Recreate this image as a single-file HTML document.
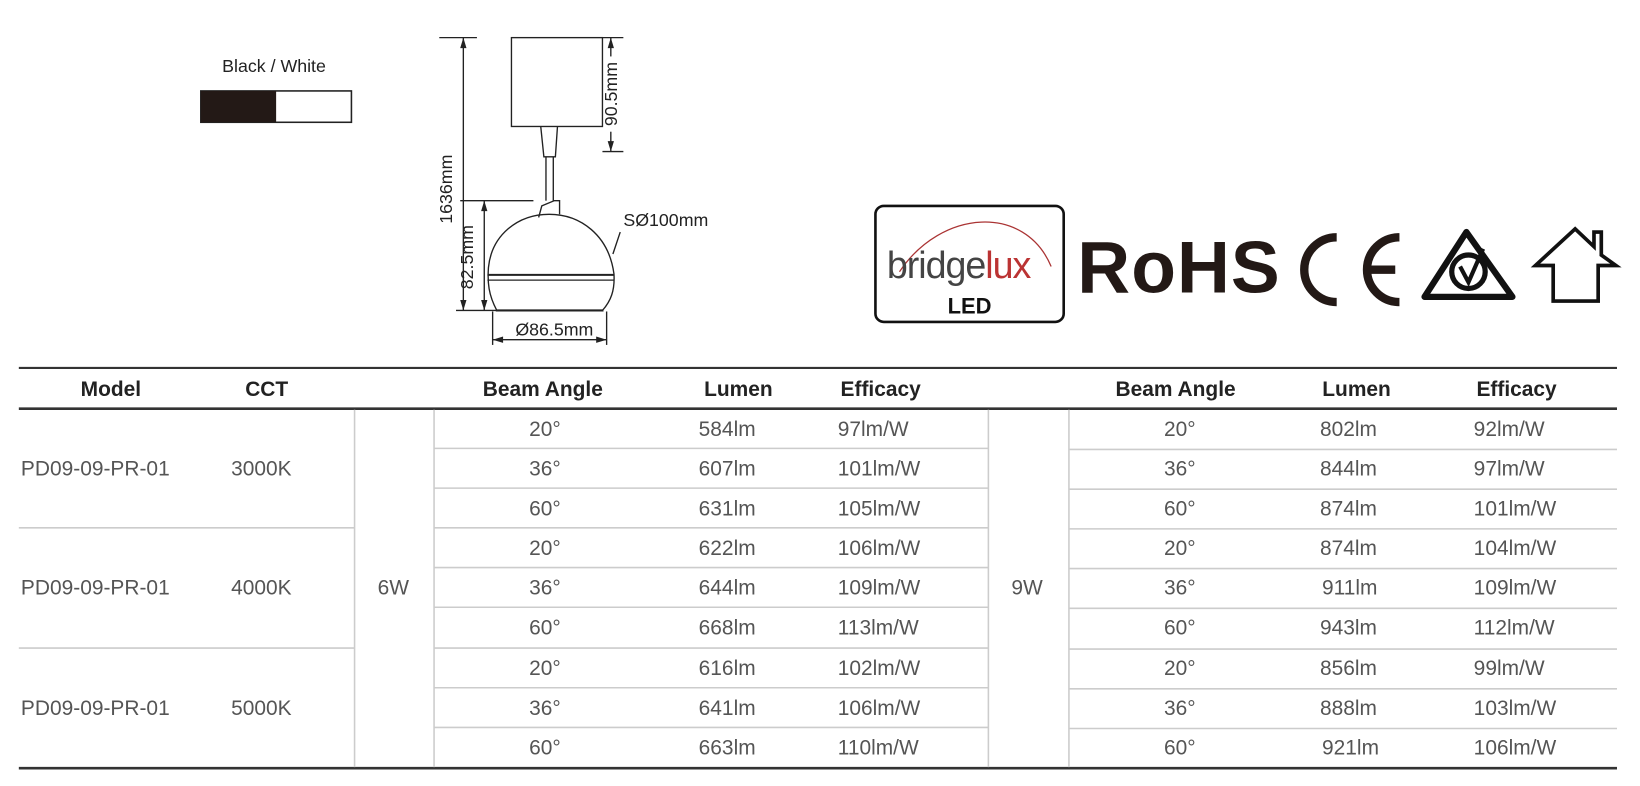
<!DOCTYPE html>
<html><head><meta charset="utf-8"><style>
html,body{margin:0;padding:0;background:#fff;}
svg{display:block;}
text{font-family:"Liberation Sans",sans-serif;}
</style></head><body>
<svg width="1640" height="786" viewBox="0 0 1568 752" preserveAspectRatio="none" xmlns="http://www.w3.org/2000/svg">
<!-- swatch -->
<text x="262" y="69" font-size="17" text-anchor="middle" fill="#222">Black / White</text>
<rect x="192" y="87" width="144" height="30" fill="#fff" stroke="#222" stroke-width="1.5"/>
<rect x="192" y="87" width="72" height="30" fill="#231916"/>
<!-- drawing -->
<g stroke="#222" fill="none" stroke-width="1.3">
<rect x="489" y="36" width="87" height="85"/>
<line x1="420" y1="36" x2="456" y2="36"/>
<line x1="443" y1="36" x2="443" y2="297"/>
<line x1="576" y1="36" x2="596" y2="36"/>
<line x1="576" y1="145" x2="596" y2="145"/>
<line x1="584" y1="36" x2="584" y2="54"/>
<line x1="584" y1="126" x2="584" y2="145"/>
<line x1="440" y1="192" x2="510" y2="192"/>
<line x1="463" y1="192" x2="463" y2="297"/>
<line x1="436" y1="297" x2="475" y2="297"/>
<path d="M517 121 L520 150 L531 150 L533 121"/>
<line x1="522" y1="150" x2="522" y2="192"/>
<line x1="529" y1="150" x2="529" y2="192"/>
<path d="M515 208 L518 197 L530 192 L535 192 L535 205"/>
<path d="M475 297 C467 282 466 270 467 256 C470 225 495 205 525 205 C555 205 582 225 587 262 C588 278 584 288 576 297 Z"/>
<line x1="466" y1="263" x2="587" y2="263" stroke-width="2"/>
<line x1="466" y1="268" x2="587" y2="268"/>
<line x1="474" y1="297" x2="577" y2="297" stroke-width="2"/>
<line x1="471" y1="298" x2="471" y2="330"/>
<line x1="580" y1="298" x2="580" y2="330"/>
<line x1="471" y1="325" x2="580" y2="325"/>
<path d="M593 222 L586 243"/>
</g>
<g fill="#222">
<path d="M443 36 l-3 10 h6z M443 297 l-3 -10 h6z M584 36 l-3 10 h6z M584 145 l-3 -10 h6z M463 192 l-3 10 h6z M463 297 l-3 -10 h6z M471 325 l10 -3 v6z M580 325 l-10 -3 v6z"/>
</g>
<text transform="translate(432 181) rotate(-90)" font-size="17" text-anchor="middle" fill="#222">1636mm</text>
<text transform="translate(590 90) rotate(-90)" font-size="17" text-anchor="middle" fill="#222">90.5mm</text>
<text transform="translate(452 246) rotate(-90)" font-size="17" text-anchor="middle" fill="#222">82.5mm</text>
<text x="530" y="321" font-size="17" text-anchor="middle" fill="#222">Ø86.5mm</text>
<text x="596" y="216" font-size="17" fill="#222">SØ100mm</text>
<!-- logos -->
<rect x="837" y="197" width="180" height="111" rx="8" fill="#fff" stroke="#111" stroke-width="2.5"/>
<path d="M860 260 C900 200 980 195 1005 255" fill="none" stroke="#a33" stroke-width="1.2"/>
<text x="848" y="266" font-size="36" fill="#444" letter-spacing="-1">bridge<tspan fill="#b33">lux</tspan></text>
<text x="927" y="300" font-size="21" font-weight="bold" text-anchor="middle" fill="#111">LED</text>
<text x="1030" y="280" font-size="70" font-weight="bold" fill="#231916" letter-spacing="1">RoHS</text>
<path d="M1278 227 A31 31 0 0 0 1278 289" fill="none" stroke="#231916" stroke-width="8"/>
<path d="M1338 227 A31 31 0 0 0 1338 289 M1310 258 H1334" fill="none" stroke="#231916" stroke-width="8"/>
<path d="M1402 222 L1446 284 L1362 284 Z" fill="none" stroke="#111" stroke-width="6" stroke-linejoin="round"/>
<circle cx="1404" cy="260" r="16" fill="none" stroke="#111" stroke-width="5"/>
<path d="M1396 255 L1404 270 L1418 238" fill="none" stroke="#111" stroke-width="4"/>
<path d="M1485 288 V254 H1468 L1506 219 L1524 236 V222 H1531 V244 L1545 254 H1528 V288 Z" fill="none" stroke="#111" stroke-width="3.5" stroke-linejoin="miter"/>
<!-- table lines -->
<g stroke="#333">
<line x1="18" y1="352" x2="1546" y2="352" stroke-width="2"/>
<line x1="18" y1="391" x2="1546" y2="391" stroke-width="2.5"/>
<line x1="18" y1="735" x2="1546" y2="735" stroke-width="2.5"/>
</g>
<g stroke="#ccc" stroke-width="1.5">
<line x1="339" y1="392" x2="339" y2="734"/>
<line x1="415" y1="392" x2="415" y2="734"/>
<line x1="945" y1="392" x2="945" y2="734"/>
<line x1="1022" y1="392" x2="1022" y2="734"/>
<line x1="18" y1="505" x2="339" y2="505"/>
<line x1="18" y1="620" x2="339" y2="620"/>
<path d="M415 429H945M415 467H945M415 505H945M415 543H945M415 581H945M415 620H945M415 658H945M415 696H945"/>
<path d="M1022 430H1546M1022 468H1546M1022 506H1546M1022 544H1546M1022 582H1546M1022 621H1546M1022 659H1546M1022 697H1546"/>
</g>
<g font-size="20" font-weight="bold" fill="#222">
<text x="106" y="379" text-anchor="middle">Model</text>
<text x="255" y="379" text-anchor="middle">CCT</text>
<text x="519" y="379" text-anchor="middle">Beam Angle</text>
<text x="706" y="379" text-anchor="middle">Lumen</text>
<text x="842" y="379" text-anchor="middle">Efficacy</text>
<text x="1124" y="379" text-anchor="middle">Beam Angle</text>
<text x="1297" y="379" text-anchor="middle">Lumen</text>
<text x="1450" y="379" text-anchor="middle">Efficacy</text>
</g>
<g font-size="20" fill="#555">
<text x="20" y="455">PD09-09-PR-01</text><text x="221" y="455">3000K</text>
<text x="20" y="569">PD09-09-PR-01</text><text x="221" y="569">4000K</text>
<text x="20" y="684">PD09-09-PR-01</text><text x="221" y="684">5000K</text>
<text x="376" y="569" text-anchor="middle">6W</text>
<text x="982" y="569" text-anchor="middle">9W</text>
<g text-anchor="middle">
<text x="521" y="417">20°</text><text x="521" y="455">36°</text><text x="521" y="493">60°</text>
<text x="521" y="531">20°</text><text x="521" y="569">36°</text><text x="521" y="607">60°</text>
<text x="521" y="646">20°</text><text x="521" y="684">36°</text><text x="521" y="722">60°</text>
<text x="1128" y="417">20°</text><text x="1128" y="455">36°</text><text x="1128" y="493">60°</text>
<text x="1128" y="531">20°</text><text x="1128" y="569">36°</text><text x="1128" y="607">60°</text>
<text x="1128" y="646">20°</text><text x="1128" y="684">36°</text><text x="1128" y="722">60°</text>
</g>
<text x="668" y="417">584lm</text><text x="668" y="455">607lm</text><text x="668" y="493">631lm</text>
<text x="668" y="531">622lm</text><text x="668" y="569">644lm</text><text x="668" y="607">668lm</text>
<text x="668" y="646">616lm</text><text x="668" y="684">641lm</text><text x="668" y="722">663lm</text>
<text x="801" y="417">97lm/W</text><text x="801" y="455">101lm/W</text><text x="801" y="493">105lm/W</text>
<text x="801" y="531">106lm/W</text><text x="801" y="569">109lm/W</text><text x="801" y="607">113lm/W</text>
<text x="801" y="646">102lm/W</text><text x="801" y="684">106lm/W</text><text x="801" y="722">110lm/W</text>
<text x="1262" y="417">802lm</text><text x="1262" y="455">844lm</text><text x="1262" y="493">874lm</text>
<text x="1262" y="531">874lm</text><text x="1264" y="569">911lm</text><text x="1262" y="607">943lm</text>
<text x="1262" y="646">856lm</text><text x="1262" y="684">888lm</text><text x="1264" y="722">921lm</text>
<text x="1409" y="417">92lm/W</text><text x="1409" y="455">97lm/W</text><text x="1409" y="493">101lm/W</text>
<text x="1409" y="531">104lm/W</text><text x="1409" y="569">109lm/W</text><text x="1409" y="607">112lm/W</text>
<text x="1409" y="646">99lm/W</text><text x="1409" y="684">103lm/W</text><text x="1409" y="722">106lm/W</text>
</g>
</svg>
</body></html>
